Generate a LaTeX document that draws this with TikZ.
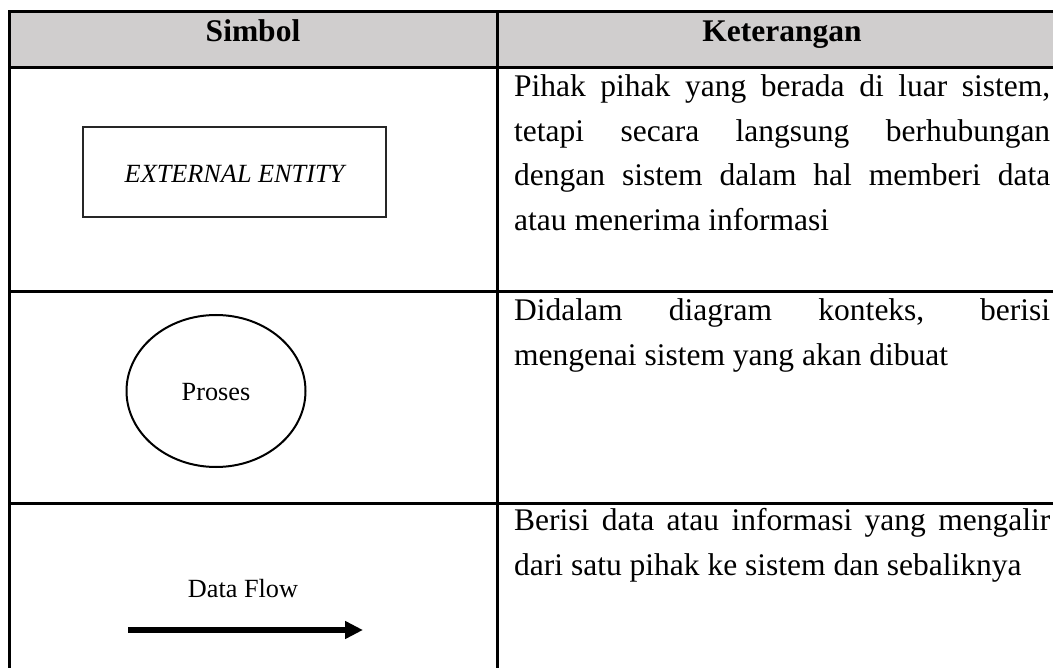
\documentclass[tikz,border=0pt]{standalone}
\usepackage{fontspec}
\setmainfont{Liberation Serif}
\usetikzlibrary{arrows.meta,shapes.geometric}
\definecolor{hdr}{HTML}{D0CECE}
\newcommand\jline[1]{\makebox[536pt][s]{#1}}
\begin{document}
\begin{tikzpicture}[x=1pt,y=-1pt,
  grid/.style={line width=3pt, line cap=rect},
  body/.style={anchor=base west, inner sep=0pt, font=\fontsize{31.5}{45}\selectfont},
  head/.style={anchor=base, inner sep=0pt, font=\fontsize{31.5}{45}\selectfont\bfseries},
  small/.style={anchor=base, inner sep=0pt, font=\fontsize{26.25}{30}\selectfont}]
\useasboundingbox (0,0) rectangle (1053,668);
\clip (0,0) rectangle (1053,668);
% table
\fill[hdr] (9,12) rectangle (1070,68);
\draw[grid] (9,700) -- (9,12) -- (1070,12);
\draw[grid] (9,68) -- (1070,68);
\draw[grid] (9,292) -- (1070,292);
\draw[grid] (9,503) -- (1070,503);
\draw[grid] (497,12) -- (497,700);
% header
\node[head] (hsim) at (253,42) {Simbol};
\node[head] (hket) at (782,42) {Keterangan};
% row 1
\node[draw=black!85, line width=1.6pt, minimum width=303pt, minimum height=90pt, inner sep=0pt] (ent) at (234.5,172) {};
\node[small, font=\fontsize{26.25}{30}\selectfont\itshape] (entt) at (234.5,183) {EXTERNAL ENTITY};
\node[body] (k1a) at (514,97) {\jline{Pihak pihak yang berada di luar sistem,}};
\node[body] (k1b) at (514,142) {\jline{tetapi secara langsung berhubungan}};
\node[body] (k1c) at (514,186) {\jline{dengan sistem dalam hal memberi data}};
\node[body] (k1d) at (514,231) {atau menerima informasi};
% row 2
\node[draw, ellipse, line width=2pt, minimum width=179pt, minimum height=152pt, inner sep=0pt] (proc) at (216,391) {};
\node[small] (proct) at (216,401) {Proses};
\node[body] (k2a) at (514,321) {\jline{Didalam diagram konteks, berisi}};
\node[body] (k2b) at (514,366) {mengenai sistem yang akan dibuat};
% row 3
\node[small] (dft) at (243,597) {Data Flow};
\coordinate (dfs) at (128,630);
\coordinate (dfe) at (363,630);
\draw[line width=6pt, -{Triangle[length=18pt,width=17pt]}] (dfs) -- (dfe);
\node[body] (k3a) at (514,530) {\jline{Berisi data atau informasi yang mengalir}};
\node[body] (k3b) at (514,575) {dari satu pihak ke sistem dan sebaliknya};
\end{tikzpicture}
\end{document}
